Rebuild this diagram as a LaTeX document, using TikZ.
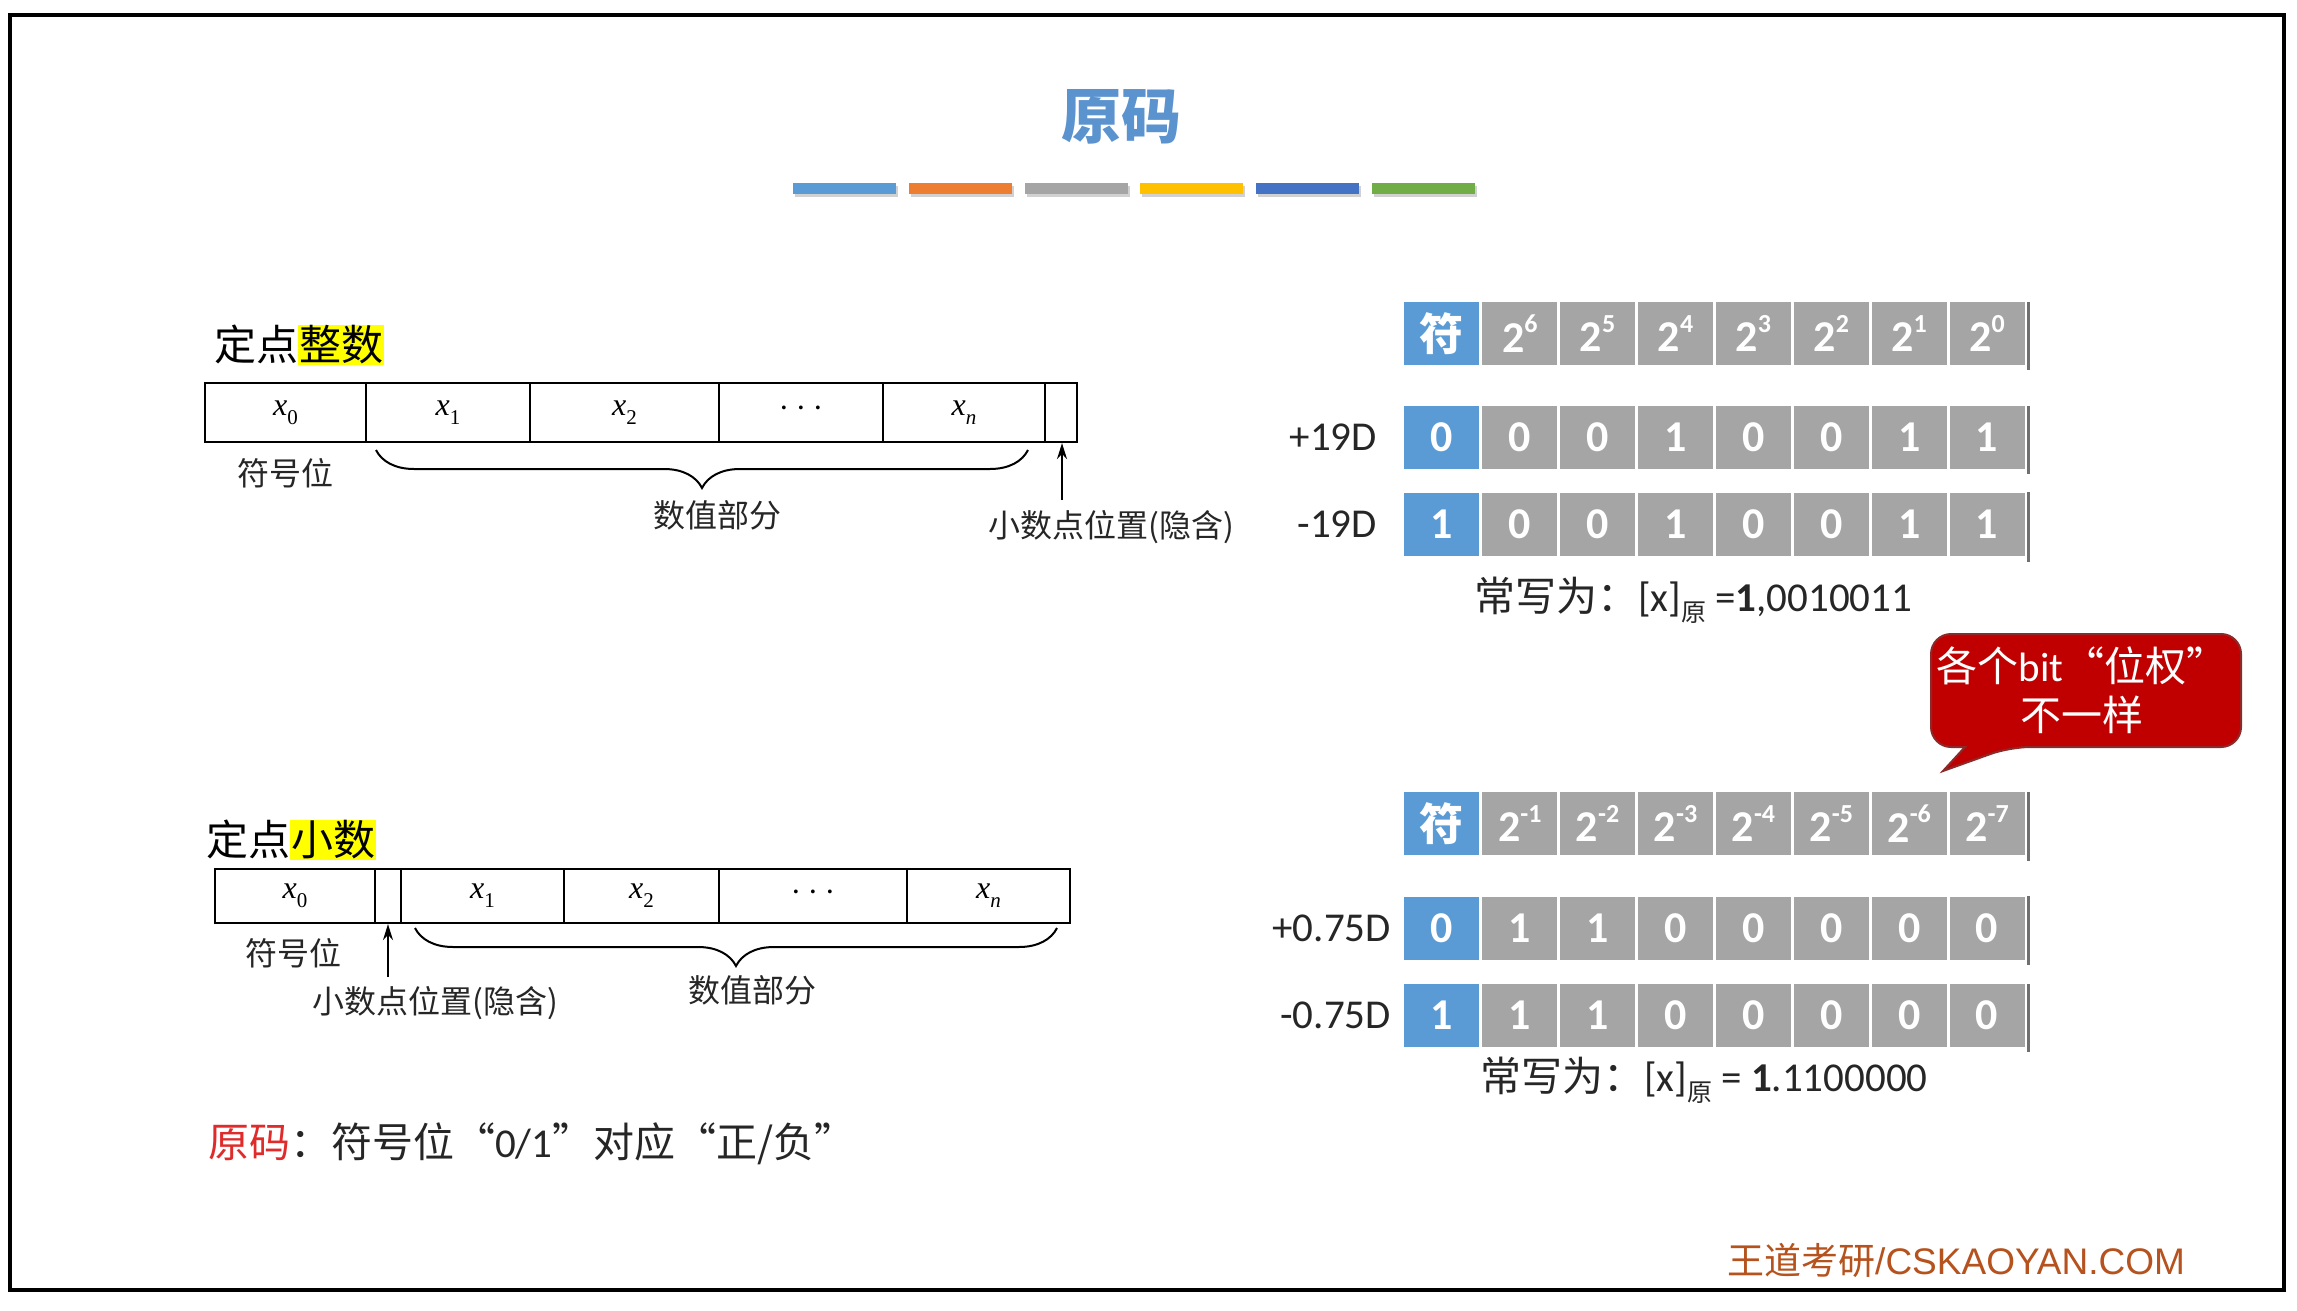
\documentclass[tikz,border=0pt]{standalone}
\usepackage{fontspec}
\setmainfont{Carlito}
\newfontfamily\cjk{Noto Sans CJK SC}
\newfontfamily\carl{Carlito}
\newfontfamily\arialf{Liberation Sans}
\newfontfamily\timesf{Liberation Serif}
\usetikzlibrary{decorations.pathreplacing,arrows.meta}
\definecolor{tblue}{HTML}{5B9BD5}
\definecolor{tgray}{HTML}{A5A5A5}
\definecolor{torange}{HTML}{ED7D31}
\definecolor{tyellow}{HTML}{FFC000}
\definecolor{tdblue}{HTML}{4472C4}
\definecolor{tgreen}{HTML}{70AD47}
\definecolor{titleblue}{HTML}{5B93CF}
\definecolor{calred}{HTML}{C00000}
\definecolor{calline}{HTML}{8C2A2A}
\definecolor{brandc}{HTML}{B5521D}
\definecolor{txt}{HTML}{262626}
\definecolor{redtxt}{HTML}{E02B2B}
\definecolor{hlyellow}{HTML}{FFFF00}
\definecolor{edgegray}{HTML}{707070}
\newcommand\fs[1]{\fontsize{#1}{#1}\selectfont}
\newcommand\pw[1]{\raisebox{0.45em}{\fs{26}#1}}
\newcommand\xv[1]{{\timesf\itshape x}\raisebox{-0.28em}{\fs{21}\timesf #1}}
\newcommand\xn{{\timesf\itshape x}\raisebox{-0.28em}{\fs{21}\timesf\itshape n}}
\newcommand\lqq{\makebox[1em][r]{“}}
\newcommand\rqq{\makebox[1em][l]{”}}
\newcommand\hlbox[1]{{\setlength{\fboxsep}{1pt}\colorbox{hlyellow}{#1}}}
\newcommand\bitrow[3]{%
  \foreach \v [count=\k from 0] in {#3} {%
    \ifnum\k=0\relax
      \node[cellb] (#1\k) at ({1441.9+77.875*\k},#2) {\v};
    \else
      \node[cellg] (#1\k) at ({1441.9+77.875*\k},#2) {\v};
    \fi
  }%
}
\begin{document}
\begin{tikzpicture}[x=1pt,y=-1pt,
  lab/.style={font={\cjk\fs{32}}, text=txt, inner sep=0pt},
  head/.style={font={\cjk\fs{42}}, text=black, inner sep=0pt, anchor=west},
  cellbox/.style={draw=black, line width=2.2pt, minimum height=#1, inner sep=0pt, font=\fs{32}},
  cellbox/.default=59pt,
  cellb/.style={fill=tblue, minimum width=75pt, minimum height=63pt, inner sep=0pt, text=white, font=\bfseries\fs{44}},
  cellg/.style={cellb, fill=tgray},
  rowlab/.style={font=\fs{41}, text=txt, anchor=east, inner sep=0pt},
  note/.style={font={\fs{41}}, text=txt, anchor=west, inner sep=0pt},
  brc/.style={decorate, decoration={brace, amplitude=38pt}, line width=2pt},
  arr/.style={-{Stealth[length=16pt,width=10pt]}, line width=2pt},
  redge/.style={edgegray, line width=3pt},
]
\useasboundingbox (0,0) rectangle (2297,1311);
\fill[white] (0,0) rectangle (2297,1311);
\draw[line width=4pt] (10,15) rectangle (2284,1290);

% title
\node[font={\cjk\bfseries\fs{60}}, text=titleblue, inner sep=0pt] (title) at (1121,117) {原码};
\foreach \c [count=\k from 0] in {tblue,torange,tgray,tyellow,tdblue,tgreen} {
  \fill[black!18] ({793+115.8*\k+2},186) rectangle +(103,11);
  \fill[\c] ({793+115.8*\k},183) rectangle +(103,11);
}

% ---------- left top: integer ----------
\node[head] (h1) at (214,345) {定点\hlbox{整数}};
\node[cellbox, minimum width=161pt] (a0) at (285.5,412.5) {\xv{0}};
\node[cellbox, minimum width=164pt] (a1) at (448,412.5) {\xv{1}};
\node[cellbox, minimum width=189pt] (a2) at (624.5,412.5) {\xv{2}};
\node[cellbox, minimum width=164pt] (a3) at (801,412.5) {\timesf ·\hspace{0.2em}·\hspace{0.2em}·};
\node[cellbox, minimum width=162pt] (a4) at (964,412.5) {\xn};
\node[cellbox, minimum width=32pt] (a5) at (1061,412.5) {};
\node[lab] (s1) at (285,473) {符号位};
\coordinate (br1a) at (376,450);
\coordinate (br1b) at (1028,450);
\draw[brc] (br1b) -- (br1a);
\node[lab] (v1) at (717,515) {数值部分};
\coordinate (ar1) at (1062,500);
\draw[arr] (ar1) -- (ar1 |- a5.south);
\node[lab, anchor=west] (p1) at (988,527) {小数点位置(隐含)};

% ---------- left bottom: fraction ----------
\node[head] (h2) at (206,840) {定点\hlbox{小数}};
\node[cellbox=54pt, minimum width=160pt] (b0) at (295,896) {\xv{0}};
\node[cellbox=54pt, minimum width=26pt] (b1) at (388,896) {};
\node[cellbox=54pt, minimum width=163pt] (b2) at (482.5,896) {\xv{1}};
\node[cellbox=54pt, minimum width=155pt] (b3) at (641.5,896) {\xv{2}};
\node[cellbox=54pt, minimum width=188pt] (b4) at (813,896) {\timesf ·\hspace{0.2em}·\hspace{0.2em}·};
\node[cellbox=54pt, minimum width=163pt] (b5) at (988.5,896) {\xn};
\node[lab] (s2) at (293,953) {符号位};
\coordinate (br2a) at (415,928);
\coordinate (br2b) at (1057,928);
\draw[brc] (br2b) -- (br2a);
\node[lab] (v2) at (752,990) {数值部分};
\coordinate (ar2) at (388,977);
\draw[arr] (ar2) -- (ar2 |- b1.south);
\node[lab, anchor=west] (p2) at (312,1003) {小数点位置(隐含)};

% bottom statement
\node[font={\cjk\fs{41}}, text=txt, anchor=west, inner sep=0pt] (stmt) at (208,1144)
  {{\color{redtxt}原码}：符号位\lqq{\carl 0/1}\rqq 对应\lqq 正/负\rqq};

% ---------- right top table ----------
\bitrow{ht}{333.5}{{\cjk 符},2\pw{6},2\pw{5},2\pw{4},2\pw{3},2\pw{2},2\pw{1},2\pw{0}}
\bitrow{ra}{437.5}{0,0,0,1,0,0,1,1}
\bitrow{rb}{524.5}{1,0,0,1,0,0,1,1}
\draw[redge] (2028.5,302) -- (2028.5,370);
\draw[redge] (2028.5,406) -- (2028.5,474);
\draw[redge] (2028.5,492) -- (2028.5,562);
\node[rowlab] (la) at (1377,437.5) {+19D};
\node[rowlab] (lb) at (1377,524.5) {-19D};
\node[note] (w1) at (1474,600) {{\cjk 常写为：}[x]\raisebox{-0.25em}{\cjk\fs{25}原} =\textbf{1},0010011};

% callout
\draw[fill=calred, draw=calline, line width=2pt, rounded corners=20pt]
  (1931,634) -- (2241,634) -- (2241,747) -- (2010,747)
  [sharp corners] -- (1943,771) -- (1965,747)
  [rounded corners=20pt] -- (1931,747) -- cycle;
\node[font={\cjk\fs{41}}, text=white, align=center, inner sep=0pt] (callt) at (2082,690)
  {各个{\carl bit}\lqq 位权\rqq\\[8pt]不一样};

% ---------- right bottom table ----------
\bitrow{hb}{823.5}{{\cjk 符},2\pw{-1},2\pw{-2},2\pw{-3},2\pw{-4},2\pw{-5},2\pw{-6},2\pw{-7}}
\bitrow{rc}{928}{0,1,1,0,0,0,0,0}
\bitrow{rd}{1015.5}{1,1,1,0,0,0,0,0}
\draw[redge] (2028.5,792) -- (2028.5,861);
\draw[redge] (2028.5,896) -- (2028.5,965);
\draw[redge] (2028.5,984) -- (2028.5,1052);
\node[rowlab] (lc) at (1391,928) {+0.75D};
\node[rowlab] (ld) at (1391,1015.5) {-0.75D};
\node[note] (w2) at (1480,1080) {{\cjk 常写为：}[x]\raisebox{-0.25em}{\cjk\fs{25}原} = \textbf{1}.1100000};

% brand
\node[font=\fs{37}, text=brandc, anchor=west, inner sep=0pt] (brand) at (1727,1260)
  {{\cjk 王道考研}{\arialf /CSKAOYAN.COM}};
\end{tikzpicture}
\end{document}
